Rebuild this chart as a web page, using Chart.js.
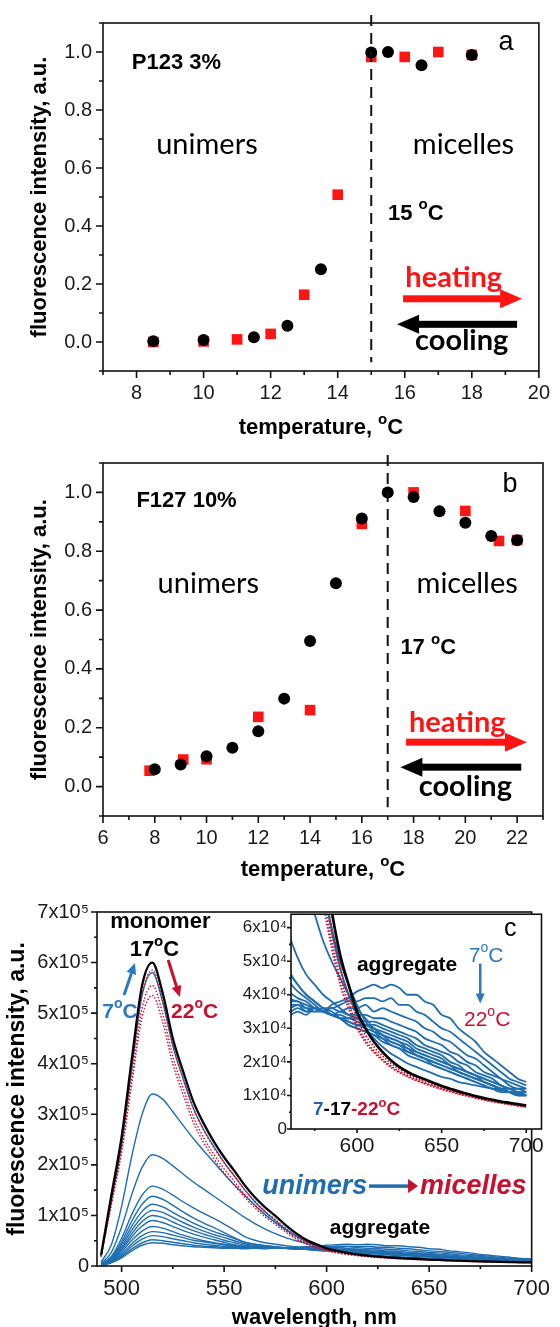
<!DOCTYPE html>
<html>
<head>
<meta charset="utf-8">
<script src="https://cdn.jsdelivr.net/npm/chart.js@4.4.0/dist/chart.umd.min.js"></script>
<style>
  body { margin: 0; background: #fff; }
  #wrap { position: relative; width: 560px; height: 1327px; overflow: hidden; }
  canvas { position: absolute; left: 0; }
</style>
</head>
<body>
<div id="wrap">
  <canvas id="chartA" width="560" height="460" style="top:0px"></canvas>
  <canvas id="chartB" width="560" height="445" style="top:440px"></canvas>
  <canvas id="chartC" width="560" height="447" style="top:880px"></canvas>
  <canvas id="chartInset" width="335" height="260" style="top:900px; left:225px"></canvas>
</div>
<script>
const FONT = '"Liberation Sans", Arial, sans-serif';
const CAL = 'Lato, "Liberation Sans", sans-serif';
const RED = '#ff1414';
const DRED = '#c8102e';
const BLUE = '#1f6eb0';

// panel a: P123 3%
const aHeatT = [8.5, 10, 11, 12, 13, 14, 15, 16, 17, 18];
const aHeatI = [0.0, 0.002, 0.009, 0.028, 0.163, 0.508, 0.983, 0.983, 1.0, 0.99];
const aCoolT = [8.5, 10, 11.5, 12.5, 13.5, 15, 15.5, 16.5, 18];
const aCoolI = [0.003, 0.007, 0.016, 0.056, 0.251, 0.998, 1.0, 0.954, 0.99];
const aXMajor = [8, 10, 12, 14, 16, 18, 20];
const aXMinor = [7, 9, 11, 13, 15, 17, 19];

// panel b: F127 10%
const bHeatT = [7.8, 9.1, 10, 12, 14, 16, 18, 20, 21.3, 22];
const bHeatI = [0.054, 0.092, 0.093, 0.237, 0.26, 0.893, 1.0, 0.937, 0.835, 0.838];
const bCoolT = [8, 9, 10, 11, 12, 13, 14, 15, 16, 17, 18, 19, 20, 21, 22];
const bCoolI = [0.059, 0.075, 0.103, 0.132, 0.188, 0.299, 0.495, 0.691, 0.911, 1.0, 0.984, 0.936, 0.897, 0.852, 0.837];
const bXMajor = [6, 8, 10, 12, 14, 16, 18, 20, 22];
const bXMinor = [7, 9, 11, 13, 15, 17, 19, 21, 23];

const abYMajor = [0, 0.2, 0.4, 0.6, 0.8, 1.0];
const abYMinor = [-0.1, 0.1, 0.3, 0.5, 0.7, 0.9, 1.1];
const abYLabels = ['0.0', '0.2', '0.4', '0.6', '0.8', '1.0'];

// panel c: emission spectra, intensities in units of 1000
const wavelengths = [490, 495, 500, 505, 510, 515, 520, 525, 530, 535, 540, 545, 550, 555, 560, 565, 570, 575, 580, 585, 590, 595, 600, 605, 610, 615, 620, 625, 630, 635, 640, 645, 650, 655, 660, 665, 670, 675, 680, 685, 690, 695, 700];
const spec17 = [22, 140, 255, 410, 555, 600, 540, 450, 385, 325, 282, 246, 215, 188, 160, 136, 116, 99, 81, 65, 52, 43, 35, 30, 26, 23, 20.5, 18.5, 17, 15.8, 14.8, 13.8, 12.8, 12, 11.2, 10.5, 9.8, 9.2, 8.7, 8.2, 7.8, 7.4, 7];
const spec18 = [21, 134, 246, 396, 538, 585, 527, 437, 372, 312, 269, 234, 204, 178, 151, 128, 108, 92, 75, 60, 48, 40, 33, 28, 24.5, 21.8, 19.6, 17.8, 16.4, 15.2, 14.2, 13.3, 12.4, 11.6, 10.9, 10.2, 9.6, 9.0, 8.5, 8.0, 7.6, 7.2, 6.8];
const spec20 = [20, 126, 232, 374, 510, 555, 500, 414, 352, 295, 254, 221, 192, 167, 142, 120, 101, 86, 70, 56, 45, 37.5, 31, 26.5, 23.3, 20.8, 18.8, 17.1, 15.8, 14.7, 13.7, 12.9, 12.0, 11.3, 10.6, 10.0, 9.4, 8.8, 8.3, 7.8, 7.4, 7.0, 6.6];
const spec22 = [19, 121, 224, 361, 492, 535, 482, 399, 339, 284, 244, 212, 184, 160, 136, 115, 97, 82, 67, 54, 43, 36, 30, 25.8, 22.8, 20.4, 18.4, 16.8, 15.5, 14.4, 13.5, 12.6, 11.8, 11.1, 10.4, 9.8, 9.2, 8.6, 8.1, 7.7, 7.3, 6.9, 6.5];
const specBlue = [
  [1, 6, 16, 30, 41, 46, 45, 42, 40, 38, 37, 36, 35, 35, 34, 35, 34, 36, 35, 37, 38, 39, 41, 42, 43, 42, 43, 42, 40, 40, 38, 37, 34, 33, 30, 28, 26, 23, 21, 19, 17, 15, 14],
  [1, 7, 18, 34, 46, 52, 50, 47, 44, 41, 39, 38, 37, 36, 35, 36, 35, 35, 36, 36, 37, 38, 38, 39, 39, 38, 39, 37, 37, 35, 34, 32, 30, 29, 27, 25, 23, 21, 19, 17, 15, 14, 13],
  [2, 8, 21, 39, 53, 60, 58, 54, 50, 46, 43, 41, 39, 38, 36, 37, 35, 36, 35, 36, 35, 36, 36, 37, 35, 36, 35, 34, 33, 32, 30, 29, 27, 26, 24, 22, 21, 19, 17, 15, 14, 13, 12],
  [2, 9, 24, 44, 60, 68, 66, 61, 56, 51, 48, 45, 42, 40, 37, 37, 36, 35, 35, 34, 35, 34, 34, 34, 33, 33, 32, 31, 30, 29, 27, 26, 25, 23, 22, 20, 19, 17, 16, 15, 13, 12, 12],
  [2, 10, 28, 51, 69, 78, 75, 68, 61, 55, 50, 46, 43, 40, 38, 38, 36, 36, 35, 34, 34, 33, 33, 32, 32, 31, 30, 29, 28, 27, 25, 24, 23, 22, 20, 19, 17, 16, 15, 13, 12, 12, 11],
  [2, 11, 32, 58, 79, 90, 86, 78, 70, 63, 57, 52, 47, 42, 39, 38, 37, 36, 35, 34, 33, 33, 32, 31, 31, 30, 29, 28, 27, 25, 24, 23, 22, 20, 19, 17, 16, 15, 14, 13, 12, 11, 11],
  [2, 12, 35, 64, 88, 100, 96, 87, 78, 70, 63, 57, 51, 46, 41, 39, 38, 36, 35, 34, 33, 32, 31, 31, 30, 29, 28, 27, 26, 24, 23, 22, 21, 19, 18, 17, 16, 14, 13, 12, 12, 11, 11],
  [3, 14, 39, 71, 97, 110, 106, 96, 86, 77, 69, 62, 56, 50, 44, 41, 39, 37, 35, 34, 33, 32, 31, 30, 29, 28, 27, 26, 25, 23, 22, 21, 20, 19, 17, 16, 15, 14, 13, 12, 11, 11, 10],
  [3, 15, 43, 79, 108, 122, 117, 106, 95, 85, 76, 68, 61, 54, 47, 43, 40, 38, 36, 34, 33, 31, 30, 29, 28, 27, 26, 25, 24, 22, 21, 20, 19, 18, 17, 16, 15, 14, 13, 12, 11, 10, 10],
  [3, 17, 48, 89, 122, 138, 132, 120, 107, 95, 85, 76, 66, 56, 47, 43, 40, 38, 36, 35, 33, 31, 30, 29, 28, 26, 25, 24, 23, 22, 21, 19, 18, 17, 16, 15, 14, 13, 12, 11, 11, 10, 10],
  [4, 19, 55, 102, 140, 158, 152, 140, 127, 115, 104, 94, 83, 71, 58, 51, 46, 43, 40, 38, 36, 34, 33, 31, 30, 28, 27, 26, 24, 23, 22, 21, 20, 19, 18, 17, 16, 15, 14, 13, 12, 11, 10],
  [5, 27, 77, 142, 195, 220, 213, 198, 182, 166, 152, 138, 124, 110, 96, 84, 73, 64, 56, 50, 45, 40, 36, 33, 30, 28, 26, 25, 23, 22, 21, 20, 19, 18, 17, 16, 15, 14, 13, 12, 11, 11, 10],
  [8, 42, 118, 218, 300, 340, 330, 305, 278, 252, 228, 205, 182, 160, 140, 120, 102, 86, 72, 60, 50, 43, 37, 32, 29, 27, 25, 24, 22, 21, 20, 19, 18, 17, 16, 15, 14, 13, 12, 12, 11, 10, 10],
  [18, 128, 240, 392, 535, 580, 522, 435, 370, 312, 270, 236, 205, 178, 151, 127, 107, 90, 73, 59, 48, 40, 34, 30, 27, 24.5, 22.5, 21, 19.5, 18.5, 17.5, 16.5, 15.5, 15, 14, 13.5, 13, 12.5, 12, 11.5, 11, 10.5, 10]
];
const cXMajor = [500, 550, 600, 650, 700];
const cXMinor = [525, 575, 625, 675];
const cYMajor = [0, 1e5, 2e5, 3e5, 4e5, 5e5, 6e5, 7e5];
const cYMinor = [0.5e5, 1.5e5, 2.5e5, 3.5e5, 4.5e5, 5.5e5, 6.5e5];
const cYLabels = ['0', '1x10⁵', '2x10⁵', '3x10⁵', '4x10⁵', '5x10⁵', '6x10⁵', '7x10⁵'];
const inXMajor = [600, 650, 700];
const inXMinor = [575, 625, 675];
const inYMajor = [0, 1e4, 2e4, 3e4, 4e4, 5e4, 6e4];
const inYMinor = [0.5e4, 1.5e4, 2.5e4, 3.5e4, 4.5e4, 5.5e4];
const inYLabels = ['0', '1x10⁴', '2x10⁴', '3x10⁴', '4x10⁴', '5x10⁴', '6x10⁴'];

const pts = (xs, ys, k) => xs.map((x, i) => ({ x: x, y: ys[i] * (k || 1) }));

function text(ctx, s, x, y, font, color, align) {
  ctx.font = font;
  ctx.fillStyle = color;
  ctx.textAlign = align || 'left';
  ctx.textBaseline = 'middle';
  ctx.fillText(s, x, y);
}

// parts: [text, font, color, raise]
function rich(ctx, parts, x, y, align) {
  let w = 0;
  parts.forEach(p => { ctx.font = p[1]; w += ctx.measureText(p[0]).width; });
  let cx = align === 'center' ? x - w / 2 : (align === 'right' ? x - w : x);
  ctx.textAlign = 'left';
  ctx.textBaseline = 'middle';
  parts.forEach(p => {
    ctx.font = p[1];
    ctx.fillStyle = p[2];
    ctx.fillText(p[0], cx, y - (p[3] || 0));
    cx += ctx.measureText(p[0]).width;
  });
}

function degC(prefix, size, color, weight) {
  const f = (weight || 'bold') + ' ';
  return [[prefix, f + size + 'px ' + FONT, color, 0],
          ['o', f + Math.round(size * 0.68) + 'px ' + FONT, color, size * 0.38],
          ['C', f + size + 'px ' + FONT, color, 0]];
}

function arrow(ctx, x1, y1, x2, y2, color, shaft, headLen, headW, headColor) {
  const ang = Math.atan2(y2 - y1, x2 - x1);
  const len = Math.hypot(x2 - x1, y2 - y1);
  ctx.save();
  ctx.translate(x1, y1);
  ctx.rotate(ang);
  ctx.fillStyle = color;
  ctx.fillRect(0, -shaft / 2, len - headLen + 1, shaft);
  ctx.fillStyle = headColor || color;
  ctx.beginPath();
  ctx.moveTo(len, 0);
  ctx.lineTo(len - headLen, -headW / 2);
  ctx.lineTo(len - headLen, headW / 2);
  ctx.closePath();
  ctx.fill();
  ctx.restore();
}

function drawAxes(chart, t) {
  const { ctx, chartArea: a, scales: { x, y } } = chart;
  ctx.save();
  ctx.strokeStyle = '#111';
  ctx.lineWidth = t.lw;
  ctx.strokeRect(a.left, a.top, a.right - a.left, a.bottom - a.top);
  ctx.beginPath();
  const tx = (vals, len) => vals.forEach(v => {
    const p = x.getPixelForValue(v);
    ctx.moveTo(p, a.bottom); ctx.lineTo(p, a.bottom + len);
  });
  const ty = (vals, len) => vals.forEach(v => {
    const p = y.getPixelForValue(v);
    ctx.moveTo(a.left, p); ctx.lineTo(a.left - len, p);
  });
  tx(t.xMajor, t.major); tx(t.xMinor, t.minor);
  ty(t.yMajor, t.major); ty(t.yMinor, t.minor);
  ctx.stroke();
  ctx.restore();
}

function yTitle(ctx, s, x, y, font) {
  ctx.save();
  ctx.translate(x, y);
  ctx.rotate(-Math.PI / 2);
  text(ctx, s, 0, 0, font, '#000', 'center');
  ctx.restore();
}

function axisScales(o) {
  return {
    x: {
      type: 'linear', min: o.xMin, max: o.xMax,
      grid: { display: false, drawTicks: false }, border: { display: false },
      afterBuildTicks: s => { s.ticks = o.xMajor.map(v => ({ value: v })); },
      afterFit: s => { s.height = o.xHeight; },
      ticks: { callback: v => String(v), font: { family: FONT, size: o.xFont }, color: '#1a1a1a',
               padding: o.xPad, maxRotation: 0, autoSkip: false }
    },
    y: {
      type: 'linear', min: o.yMin, max: o.yMax,
      grid: { display: false, drawTicks: false }, border: { display: false },
      afterBuildTicks: s => { s.ticks = o.yMajor.map(v => ({ value: v })); },
      afterFit: s => { s.width = o.yWidth; },
      ticks: { callback: (v, i) => o.yLabels[i], font: { family: FONT, size: o.yFont }, color: '#1a1a1a',
               padding: o.yPad, autoSkip: false }
    }
  };
}

function tempChart(o) {
  const canvas = document.getElementById(o.canvas);
  return new Chart(canvas.getContext('2d'), {
    type: 'scatter',
    data: {
      datasets: [
        { label: 'cooling', data: pts(o.coolT, o.coolI), pointStyle: 'circle', pointRadius: 6,
          backgroundColor: '#000', borderColor: '#000', borderWidth: 0 },
        { label: 'heating', data: pts(o.heatT, o.heatI), pointStyle: 'rect', pointRadius: 7.5,
          backgroundColor: RED, borderColor: RED, borderWidth: 0 }
      ]
    },
    options: {
      responsive: false,
      animation: false,
      layout: { padding: { left: 0, right: o.padRight, top: o.padTop, bottom: 0 } },
      plugins: { legend: { display: false }, tooltip: { enabled: false } },
      scales: axisScales({
        xMin: o.xMin, xMax: o.xMax, xMajor: o.xMajor, xHeight: o.xHeight, xFont: 20, xPad: 10,
        yMin: -0.1, yMax: 1.1, yMajor: abYMajor, yLabels: abYLabels, yWidth: 103, yFont: 20, yPad: 11
      })
    },
    plugins: [{
      id: 'decor',
      afterDraw(chart) {
        const { ctx, chartArea: a, scales: { x, y } } = chart;
        const X = v => x.getPixelForValue(v), Y = v => y.getPixelForValue(v);
        const n = o.notes;
        drawAxes(chart, { lw: 1.6, major: 7, minor: 4, xMajor: o.xMajor, xMinor: o.xMinor, yMajor: abYMajor, yMinor: abYMinor });
        ctx.save();
        ctx.setLineDash([11, 7]);
        ctx.lineWidth = 2;
        ctx.strokeStyle = '#111';
        ctx.beginPath();
        ctx.moveTo(X(o.transition), a.top - 8);
        ctx.lineTo(X(o.transition), Y(-0.07));
        ctx.stroke();
        ctx.restore();
        text(ctx, o.label, X(n.label[0]), Y(n.label[1]), 'bold 22px ' + FONT, '#000', 'left');
        text(ctx, o.letter, X(n.letter[0]), Y(n.letter[1]), '27px ' + FONT, '#000', 'center');
        text(ctx, 'unimers', X(n.unimers[0]), Y(n.unimers[1]), '29px ' + CAL, '#000', 'center');
        text(ctx, 'micelles', X(n.micelles[0]), Y(n.micelles[1]), '29px ' + CAL, '#000', 'center');
        rich(ctx, degC(o.transition + ' ', 22, '#000'), X(n.temp[0]), Y(n.temp[1]), 'left');
        text(ctx, 'heating', X(n.heatText[0]), Y(n.heatText[1]), 'bold 29px ' + CAL, RED, 'center');
        arrow(ctx, X(n.heat[0]), Y(n.heat[2]), X(n.heat[1]), Y(n.heat[2]), RED, 7, 22, 19);
        arrow(ctx, X(n.cool[1]), Y(n.cool[2]), X(n.cool[0]), Y(n.cool[2]), '#000', 7, 22, 19);
        text(ctx, 'cooling', X(n.coolText[0]), Y(n.coolText[1]), 'bold 29px ' + CAL, '#000', 'center');
        rich(ctx, degC('temperature, ', 22, '#000'), (a.left + a.right) / 2, o.xTitleY, 'center');
        yTitle(ctx, 'fluorescence intensity, a.u.', 40, (a.top + a.bottom) / 2, 'bold 22px ' + FONT);
      }
    }]
  });
}

tempChart({
  canvas: 'chartA', heatT: aHeatT, heatI: aHeatI, coolT: aCoolT, coolI: aCoolI,
  xMin: 7, xMax: 20, xMajor: aXMajor, xMinor: aXMinor,
  padTop: 15, padRight: 17, xHeight: 89, xTitleY: 428,
  transition: 15, label: 'P123 3%', letter: 'a',
  notes: {
    label: [7.86, 0.963], letter: [19.02, 1.034], unimers: [10.1, 0.679], micelles: [17.75, 0.679],
    temp: [15.5, 0.443], heatText: [17.46, 0.223], heat: [15.95, 19.5, 0.149],
    cool: [15.77, 19.35, 0.061], coolText: [17.7, 0.003]
  }
});

tempChart({
  canvas: 'chartB', heatT: bHeatT, heatI: bHeatI, coolT: bCoolT, coolI: bCoolI,
  xMin: 6, xMax: 23, xMajor: bXMajor, xMinor: bXMinor,
  padTop: 21, padRight: 17, xHeight: 69, xTitleY: 430,
  transition: 17, label: 'F127 10%', letter: 'b',
  notes: {
    label: [7.29, 0.972], letter: [21.73, 1.026], unimers: [10.07, 0.69], micelles: [20.07, 0.69],
    temp: [17.49, 0.471], heatText: [19.69, 0.218], heat: [17.71, 22.38, 0.151],
    cool: [17.49, 22.16, 0.066], coolText: [20.0, 0.0]
  }
});

function spectraSets(lw) {
  const common = { pointRadius: 0, fill: false, cubicInterpolationMode: 'monotone' };
  const sets = [];
  sets.push(Object.assign({ label: '17 C', data: pts(wavelengths, spec17, 1000), borderColor: '#000', borderWidth: lw + 0.9 }, common));
  [spec18, spec20, spec22].forEach((s, i) => sets.push(Object.assign({
    label: 'red ' + i, data: pts(wavelengths, s, 1000), borderColor: DRED, borderWidth: lw, borderDash: [1.5, 1.8]
  }, common)));
  specBlue.forEach((s, i) => sets.push(Object.assign({
    label: 'blue ' + i, data: pts(wavelengths, s, 1000), borderColor: BLUE, borderWidth: lw
  }, common)));
  return sets;
}

new Chart(document.getElementById('chartC').getContext('2d'), {
  type: 'line',
  data: { datasets: spectraSets(1.4) },
  options: {
    responsive: false,
    animation: false,
    layout: { padding: { left: 0, right: 19, top: 32, bottom: 0 } },
    plugins: { legend: { display: false }, tooltip: { enabled: false } },
    scales: axisScales({
      xMin: 488, xMax: 700, xMajor: cXMajor, xHeight: 61, xFont: 22, xPad: 10,
      yMin: 0, yMax: 7e5, yMajor: cYMajor, yLabels: cYLabels, yWidth: 97, yFont: 20, yPad: 8
    })
  },
  plugins: [{
    id: 'decorC',
    afterDraw(chart) {
      const { ctx, chartArea: a, scales: { x, y } } = chart;
      const X = v => x.getPixelForValue(v), Y = v => y.getPixelForValue(v);
      drawAxes(chart, { lw: 1.6, major: 6, minor: 3, xMajor: cXMajor, xMinor: cXMinor, yMajor: cYMajor, yMinor: cYMinor });
      text(ctx, 'monomer', X(518.9), Y(6.8e5), 'bold 22px ' + FONT, '#000', 'center');
      rich(ctx, degC('17', 22, '#000'), X(516), Y(6.25e5), 'center');
      arrow(ctx, X(501.2), Y(5.36e5), X(506.5), Y(5.99e5), '#2a7bbd', 3, 11, 10);
      rich(ctx, degC('7', 21, '#2a7bbd'), X(499.2), Y(5.02e5), 'center');
      arrow(ctx, X(522.7), Y(6.05e5), X(528.4), Y(5.32e5), DRED, 3, 11, 10);
      rich(ctx, degC('22', 21, DRED), X(535.6), Y(5.02e5), 'center');
      text(ctx, 'unimers', X(568.6), Y(1.58e5), 'italic bold 27px ' + FONT, BLUE, 'left');
      arrow(ctx, X(620.7), Y(1.58e5), X(644.6), Y(1.58e5), BLUE, 3.5, 10, 14, DRED);
      text(ctx, 'micelles', X(645.5), Y(1.58e5), 'italic bold 27px ' + FONT, DRED, 'left');
      text(ctx, 'aggregate', X(626), Y(0.75e5), 'bold 21px ' + FONT, '#000', 'center');
      text(ctx, 'wavelength, nm', (a.left + a.right) / 2, 438, 'bold 22px ' + FONT, '#000', 'center');
      yTitle(ctx, 'fluorescence intensity, a.u.', 18, (a.top + a.bottom) / 2, 'bold 23px ' + FONT);
    }
  }]
});

new Chart(document.getElementById('chartInset').getContext('2d'), {
  type: 'line',
  data: { datasets: spectraSets(1.8) },
  options: {
    responsive: false,
    animation: false,
    layout: { padding: { left: 0, right: 18.5, top: 13, bottom: 0 } },
    plugins: { legend: { display: false }, tooltip: { enabled: false } },
    scales: axisScales({
      xMin: 561, xMax: 709, xMajor: inXMajor, xHeight: 31, xFont: 21, xPad: 5,
      yMin: 0, yMax: 64000, yMajor: inYMajor, yLabels: inYLabels, yWidth: 66, yFont: 17, yPad: 4
    })
  },
  plugins: [{
    id: 'insetBg',
    beforeDatasetsDraw(chart) {
      const { ctx, chartArea: a } = chart;
      ctx.save();
      ctx.fillStyle = '#fff';
      ctx.fillRect(a.left, a.top, a.right - a.left, a.bottom - a.top);
      ctx.restore();
    },
    afterDraw(chart) {
      const { ctx, scales: { x, y } } = chart;
      const X = v => x.getPixelForValue(v), Y = v => y.getPixelForValue(v);
      drawAxes(chart, { lw: 1.6, major: 4, minor: 2, xMajor: inXMajor, xMinor: inXMinor, yMajor: inYMajor, yMinor: inYMinor });
      text(ctx, 'c', X(690.5), Y(5.96e4), '25px ' + FONT, '#000', 'center');
      text(ctx, 'aggregate', X(629.6), Y(4.87e4), 'bold 21px ' + FONT, '#000', 'center');
      rich(ctx, degC('7', 21, '#2a7bbd', 'normal'), X(676.3), Y(5.16e4), 'center');
      arrow(ctx, X(672.8), Y(4.93e4), X(672.8), Y(3.74e4), '#2a7bbd', 2.5, 10, 9);
      rich(ctx, degC('22', 21, DRED, 'normal'), X(676.9), Y(3.23e4), 'center');
      const f = 'bold 19px ' + FONT;
      rich(ctx, [['7', f, '#2a5fb0', 0], ['-17', f, '#000', 0], ['-22', f, DRED, 0],
                 ['o', 'bold 13px ' + FONT, DRED, 7], ['C', f, DRED, 0]], X(574), Y(0.56e4), 'left');
    }
  }]
});
</script>
</body>
</html>
